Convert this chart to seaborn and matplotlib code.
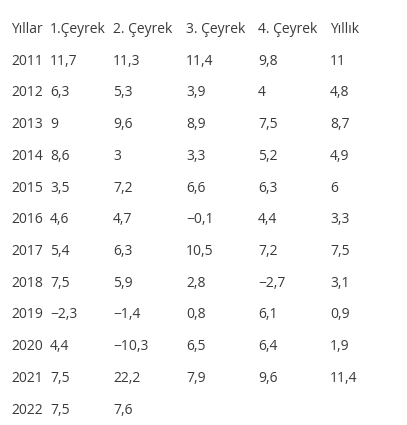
import matplotlib
matplotlib.use("Agg")
import matplotlib.pyplot as plt
import seaborn as sns

sns.set_theme(style="white")
plt.rcParams['font.family'] = ['Open Sans', 'DejaVu Sans']

headers = ["Yıllar", "1.Çeyrek", "2. Çeyrek", "3. Çeyrek", "4. Çeyrek", "Yıllık"]
years = ["2011", "2012", "2013", "2014", "2015", "2016", "2017", "2018", "2019", "2020", "2021", "2022"]
q1 = ["11,7", "6,3", "9", "8,6", "3,5", "4,6", "5,4", "7,5", "-2,3", "4,4", "7,5", "7,5"]
q2 = ["11,3", "5,3", "9,6", "3", "7,2", "4,7", "6,3", "5,9", "-1,4", "-10,3", "22,2", "7,6"]
q3 = ["11,4", "3,9", "8,9", "3,3", "6,6", "-0,1", "10,5", "2,8", "0,8", "6,5", "7,9", ""]
q4 = ["9,8", "4", "7,5", "5,2", "6,3", "4,4", "7,2", "-2,7", "6,1", "6,4", "9,6", ""]
annual = ["11", "4,8", "8,7", "4,9", "6", "3,3", "7,5", "3,1", "0,9", "1,9", "11,4", ""]

fig = plt.figure(figsize=(4.07, 4.25), dpi=100)
ax = fig.add_axes([0, 0, 1, 1])
ax.set_xlim(0, 407)
ax.set_ylim(425, 0)
ax.axis("off")

col_x = [11, 50, 113, 186, 258, 330]
color = "#3a3a3a"
fs = 10
for x, h in zip(col_x, headers):
    ax.text(x, 29, h, fontsize=fs, color=color, va="center", ha="left")
cols = [years, q1, q2, q3, q4, annual]
for i in range(len(years)):
    y = 61 + i * 31.75
    for x, c in zip(col_x, cols):
        ax.text(x, y, c[i].replace("-", "\u2212"), fontsize=fs, color=color, va="center", ha="left")

fig.savefig("out.png", dpi=100, facecolor="white")
